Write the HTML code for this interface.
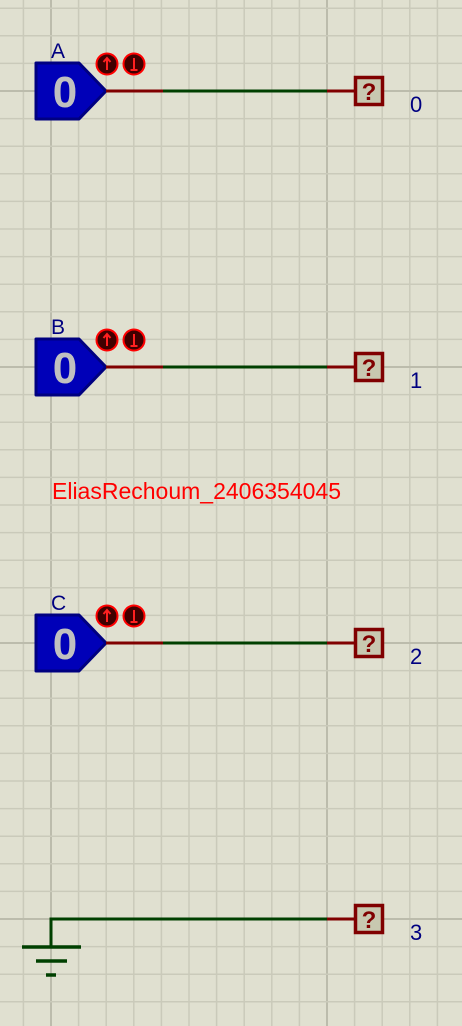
<!DOCTYPE html>
<html><head><meta charset="utf-8"><style>
html,body{margin:0;padding:0;background:#e0e0d0;}
svg{display:block;font-family:"Liberation Sans",sans-serif;}
</style></head><body>
<svg width="462" height="1026" viewBox="0 0 462 1026">
<g id="grid"></g>
<g id="parts"></g>
<text x="52" y="499" font-size="23" fill="#ff0000">EliasRechoum_2406354045</text>
<g stroke="#004000" stroke-width="3.5" fill="none">
<polyline points="51,947 51,919 327,919" stroke-width="3"/>
<line x1="22" y1="947" x2="81" y2="947"/>
<line x1="36" y1="961" x2="67" y2="961"/>
<line x1="46" y1="975" x2="56" y2="975"/>
</g>
</svg>
<script>
const ns="http://www.w3.org/2000/svg";
const grid=document.getElementById('grid');
const step=27.6, ox=51-27.6*2, oy=91-27.6*3;
for(let i=0;i<20;i++){const x=ox+i*step; if(x>462)break;
 const l=document.createElementNS(ns,'line');
 const major=Math.abs(x-51)<1||Math.abs(x-327)<1;
 l.setAttribute('x1',x);l.setAttribute('x2',x);l.setAttribute('y1',0);l.setAttribute('y2',1026);
 l.setAttribute('stroke',major?'#bcbcac':'#cacaba');l.setAttribute('stroke-width',major?2:1.5);
 
 
 grid.appendChild(l);}
for(let i=0;i<40;i++){const y=oy+i*step; if(y>1026)break;
 const l=document.createElementNS(ns,'line');
 const major=[91,367,643,919].some(v=>Math.abs(y-v)<1.5);
 l.setAttribute('x1',0);l.setAttribute('x2',462);l.setAttribute('y1',y);l.setAttribute('y2',y);
 l.setAttribute('stroke',major?'#bcbcac':'#cacaba');l.setAttribute('stroke-width',major?2:1.5);
 
 
 grid.appendChild(l);}
const labels=['A','B','C'];
const rows=[91,367,643];
const parts=document.getElementById('parts');
function add(html){parts.insertAdjacentHTML('beforeend',html);}
rows.forEach((y,i)=>{
 add(`<g>
 <text x="51" y="${y-33}" font-size="21" fill="#000080">${labels[i]}</text>
 <polygon points="36,${y-28} 79,${y-28} 106,${y} 79,${y+28} 36,${y+28}" fill="#0000b8" stroke="#000080" stroke-width="3" stroke-linejoin="round"/>
 <text x="65" y="${y+16}" font-size="44" font-weight="bold" fill="#c0c0c0" text-anchor="middle">0</text>
 <circle cx="107" cy="${y-27}" r="10.5" fill="#400000" stroke="#ff0000" stroke-width="2"/>
 <path d="M107 ${y-21} V${y-33} M103.5 ${y-29} L107 ${y-33} L110.5 ${y-29}" stroke="#ff2020" stroke-width="2" fill="none"/>
 <circle cx="134" cy="${y-27}" r="10.5" fill="#400000" stroke="#ff0000" stroke-width="2"/>
 <path d="M134 ${y-33} V${y-21} M130.5 ${y-21} H137.5" stroke="#ff2020" stroke-width="2" fill="none"/>
 </g>
 <line x1="106" y1="${y}" x2="163" y2="${y}" stroke="#800000" stroke-width="3"/>
 <line x1="163" y1="${y}" x2="327" y2="${y}" stroke="#004000" stroke-width="3"/>`);
});
[91,367,643,919].forEach((y,i)=>{
 add(`<line x1="327" y1="${y}" x2="356" y2="${y}" stroke="#800000" stroke-width="3"/>
 <g>
 <rect x="355.5" y="${y-13.5}" width="27" height="27" fill="#c8c8b0" stroke="#800000" stroke-width="3.5"/>
 <text x="369" y="${y+9}" font-size="24" font-weight="bold" fill="#800000" text-anchor="middle">?</text>
 </g>
 <text x="410" y="${y+21}" font-size="22" fill="#000080">${i}</text>`);
});
</script>
</body></html>
